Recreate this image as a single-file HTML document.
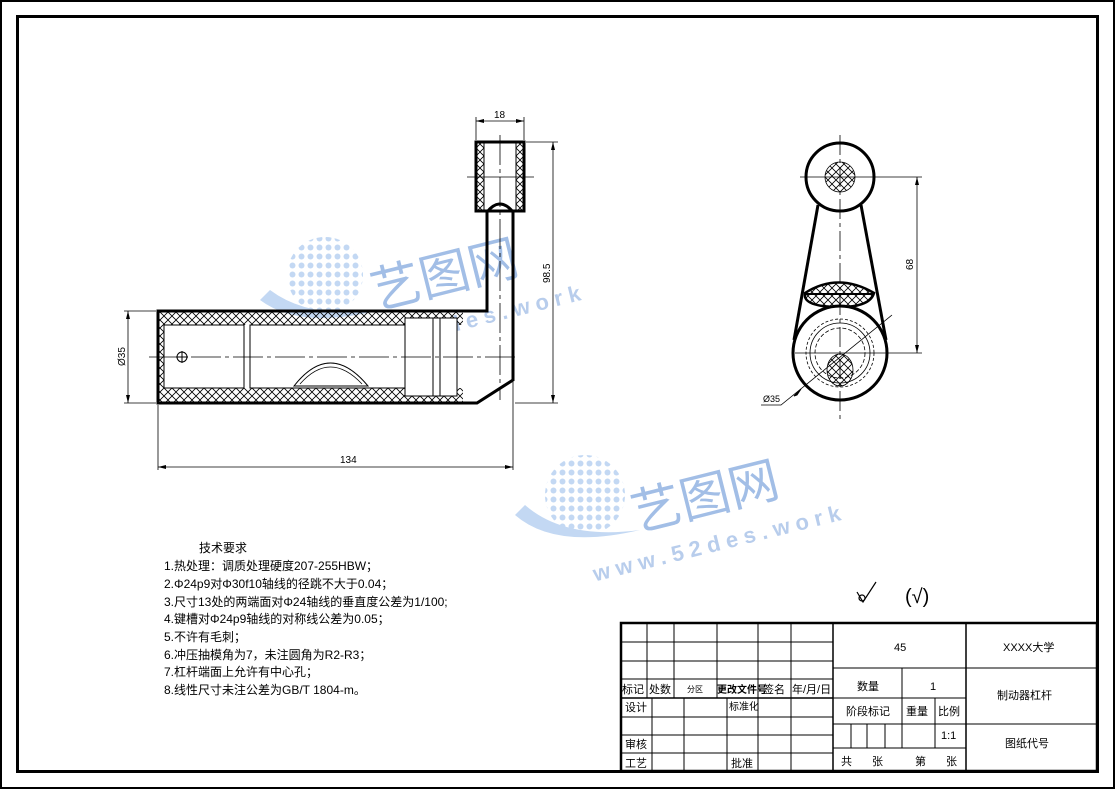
<!DOCTYPE html>
<html><head><meta charset="utf-8"><style>
html,body{margin:0;padding:0;background:#fff}
svg{display:block}
text{font-family:"Liberation Sans","Noto Sans CJK SC",sans-serif;fill:#000}
</style></head><body>
<svg width="1116" height="790" viewBox="0 0 1116 790" xmlns="http://www.w3.org/2000/svg">
<defs>
<pattern id="h" width="8" height="8" patternUnits="userSpaceOnUse">
<path d="M0 0L8 8M8 0L0 8" stroke="#000" stroke-width="0.8"/>
</pattern>
<pattern id="dots" width="9" height="9" patternUnits="userSpaceOnUse">
<circle cx="4.5" cy="4.5" r="3" fill="#a9c8ee"/>
</pattern>
</defs>
<rect x="1" y="1" width="1113" height="787" fill="none" stroke="#000" stroke-width="2"/>
<rect x="17.5" y="16.5" width="1080" height="755" fill="none" stroke="#000" stroke-width="3"/>

<!-- watermarks -->
<g opacity="0.7">
<circle cx="325" cy="275" r="38" fill="url(#dots)"/>
<path d="M260 300 Q300 330 380 310 Q310 320 270 290 Z" fill="#a9c8ee"/>
<text x="370" y="298" font-size="50" style="fill:#7aa2dc" transform="rotate(-14 420 280)">艺图网</text>
<text x="330" y="340" font-size="22" font-weight="bold" style="fill:#9ab8e4" transform="rotate(-14 420 330)" letter-spacing="6">www.52des.work</text>
<circle cx="585" cy="495" r="40" fill="url(#dots)"/>
<path d="M515 515 Q555 550 640 530 Q565 540 525 505 Z" fill="#a9c8ee"/>
<text x="630" y="520" font-size="50" style="fill:#7aa2dc" transform="rotate(-14 680 500)">艺图网</text>
<text x="590" y="560" font-size="22" font-weight="bold" style="fill:#9ab8e4" transform="rotate(-14 680 550)" letter-spacing="6">www.52des.work</text>
</g>

<!-- LEFT VIEW -->
<g stroke="#000" fill="none">
<path d="M158 311 H463 V403 H158 Z M165 325 H463 V388 H165 Z" fill="url(#h)" fill-rule="evenodd" stroke="none"/>
<rect x="476" y="142" width="48" height="69" fill="url(#h)"/>
<rect x="484" y="142" width="32" height="69" fill="#fff" stroke="#000" stroke-width="1"/>
<path d="M158 311 H487 V212 Q500 196 513 212 V380 L477 403 H158 Z" stroke-width="3"/>
<rect x="476" y="142" width="48" height="69" stroke-width="3"/>
<rect x="164" y="325" width="80" height="63" fill="#fff" stroke-width="1"/>
<rect x="250" y="325" width="155" height="63" fill="#fff" stroke-width="1"/>
<rect x="405" y="318" width="52" height="78" fill="#fff" stroke-width="1"/>
<line x1="433" y1="318" x2="433" y2="396" stroke-width="1"/>
<line x1="440" y1="318" x2="440" y2="396" stroke-width="1"/>
<path d="M294 386 Q330 340 368 386 Z" fill="#fff" stroke-width="1"/>
<path d="M300 384 Q330 350 362 384" stroke-width="0.8"/>
<circle cx="182" cy="357" r="5" stroke-width="1"/>
<line x1="176" y1="357" x2="188" y2="357" stroke-width="1"/>
<line x1="182" y1="351" x2="182" y2="363" stroke-width="1"/>
<line x1="149" y1="357" x2="515" y2="357" stroke-width="0.8" stroke-dasharray="30 4 4 4"/>
<line x1="500" y1="135" x2="500" y2="400" stroke-width="0.8" stroke-dasharray="30 4 4 4"/>
<line x1="467" y1="177" x2="534" y2="177" stroke-width="0.8"/>
<g stroke-width="0.8">
<line x1="476" y1="140" x2="476" y2="117"/><line x1="524" y1="140" x2="524" y2="117"/>
<line x1="476" y1="121" x2="524" y2="121"/>
<line x1="526" y1="142" x2="558" y2="142"/><line x1="515" y1="403" x2="558" y2="403"/>
<line x1="553" y1="142" x2="553" y2="403"/>
<line x1="156" y1="311" x2="124" y2="311"/><line x1="156" y1="403" x2="124" y2="403"/>
<line x1="128" y1="311" x2="128" y2="403"/>
<line x1="158" y1="405" x2="158" y2="470"/><line x1="513" y1="382" x2="513" y2="470"/>
<line x1="158" y1="467" x2="513" y2="467"/>
</g>
<path d="M476 121l8-2v4z M524 121l-8-2v4z M553 142l-2 8h4z M553 403l-2-8h4z M128 311l-2 8h4z M128 403l-2-8h4z M158 467l8-2v4z M513 467l-8-2v4z" fill="#000" stroke="none"/>
</g>
<text x="494" y="118" font-size="10">18</text>
<text x="340" y="463" font-size="10">134</text>
<text font-size="10" transform="translate(550 283) rotate(-90)">98.5</text>
<text font-size="10" transform="translate(125 366) rotate(-90)">Ø35</text>

<!-- RIGHT VIEW -->
<g stroke="#000" fill="none">
<line x1="818" y1="205" x2="794" y2="340" stroke-width="3"/>
<line x1="861" y1="205" x2="886" y2="340" stroke-width="3"/>
<circle cx="840" cy="177" r="34" fill="#fff" stroke-width="3"/>
<circle cx="840" cy="177" r="15" fill="url(#h)" stroke-width="0.8"/>
<path d="M805 293 Q838 272 874 293 Q870 307 840 307 Q808 307 805 297 Z" fill="url(#h)" stroke-width="2.5"/>
<line x1="805" y1="294" x2="874" y2="294" stroke-width="2"/>
<circle cx="840" cy="353" r="47" fill="#fff" stroke-width="3"/>
<circle cx="840" cy="353" r="34" stroke-width="0.8" stroke-dasharray="3 2"/>
<circle cx="840" cy="353" r="30" stroke-width="0.8"/>
<circle cx="840" cy="353" r="25" stroke-width="0.8" stroke-dasharray="4 2"/>
<ellipse cx="840" cy="370" rx="13" ry="16" fill="url(#h)" stroke-width="0.8"/>
<line x1="840" y1="135" x2="840" y2="420" stroke-width="0.8" stroke-dasharray="20 4 4 4"/>
<line x1="800" y1="177" x2="922" y2="177" stroke-width="0.8"/>
<line x1="795" y1="353" x2="922" y2="353" stroke-width="0.8"/>
<line x1="917" y1="177" x2="917" y2="353" stroke-width="0.8"/>
<path d="M917 177l-2 8h4z M917 353l-2-8h4z" fill="#000" stroke="none"/>
<polyline points="761,405 781,405 892,315" stroke-width="0.8"/>
<path d="M801 389l-7 7 3-1z" fill="#000" stroke-width="1"/>
</g>
<text font-size="10" transform="translate(913 270) rotate(-90)">68</text>
<text x="763" y="402" font-size="9">Ø35</text>

<g font-size="12">
<text x="199" y="552">技术要求</text>
<text x="164" y="570">1.热处理：调质处理硬度207-255HBW；</text>
<text x="164" y="588">2.Φ24p9对Φ30f10轴线的径跳不大于0.04；</text>
<text x="164" y="606">3.尺寸13处的两端面对Φ24轴线的垂直度公差为1/100;</text>
<text x="164" y="623">4.键槽对Φ24p9轴线的对称线公差为0.05；</text>
<text x="164" y="641">5.不许有毛刺；</text>
<text x="164" y="659">6.冲压抽模角为7，未注圆角为R2-R3；</text>
<text x="164" y="676">7.杠杆端面上允许有中心孔；</text>
<text x="164" y="694">8.线性尺寸未注公差为GB/T 1804-m。</text>
</g>
<g stroke="#000" fill="none" stroke-width="1.2">
<path d="M857 592 L863 602 L876 582"/>
<circle cx="862" cy="598" r="3"/>
</g>
<text x="905" y="603" font-size="20">(√)</text>

<!-- title block -->
<g stroke="#000" fill="none" stroke-width="1">
<rect x="621" y="623" width="476" height="148" stroke-width="2.5"/>
<line x1="833" y1="623" x2="833" y2="771" stroke-width="1.5"/>
<line x1="966" y1="623" x2="966" y2="771" stroke-width="1.5"/>
<line x1="621" y1="642" x2="833" y2="642"/>
<line x1="621" y1="661" x2="833" y2="661"/>
<line x1="621" y1="679" x2="833" y2="679"/>
<line x1="621" y1="698" x2="833" y2="698" stroke-width="1.5"/>
<line x1="621" y1="717" x2="833" y2="717"/>
<line x1="621" y1="735" x2="833" y2="735"/>
<line x1="621" y1="753" x2="833" y2="753"/>
<line x1="647" y1="623" x2="647" y2="698"/>
<line x1="674" y1="623" x2="674" y2="698"/>
<line x1="717" y1="623" x2="717" y2="698"/>
<line x1="758" y1="623" x2="758" y2="771"/>
<line x1="791" y1="623" x2="791" y2="771"/>
<line x1="652" y1="698" x2="652" y2="771"/>
<line x1="684" y1="698" x2="684" y2="771"/>
<line x1="727" y1="698" x2="727" y2="771"/>
<line x1="833" y1="668" x2="1097" y2="668"/>
<line x1="833" y1="698" x2="966" y2="698"/>
<line x1="966" y1="724" x2="1097" y2="724"/>
<line x1="833" y1="724" x2="966" y2="724"/>
<line x1="833" y1="748" x2="966" y2="748"/>
<line x1="902" y1="668" x2="902" y2="748"/>
<line x1="935" y1="698" x2="935" y2="748"/>
<line x1="851" y1="724" x2="851" y2="748"/>
<line x1="867" y1="724" x2="867" y2="748"/>
<line x1="885" y1="724" x2="885" y2="748"/>
</g>
<g font-size="11">
<text x="622" y="693">标记</text><text x="649" y="693">处数</text>
<text x="687" y="692" font-size="8">分区</text>
<text x="717" y="693" font-size="10" font-weight="bold">更改文件号</text>
<text x="763" y="693">签名</text><text x="792" y="693">年/月/日</text>
<text x="625" y="711">设计</text><text x="729" y="710" font-size="10">标准化</text>
<text x="625" y="748">审核</text><text x="625" y="767">工艺</text><text x="731" y="767">批准</text>
<text x="894" y="651">45</text>
<text x="857" y="690">数量</text><text x="930" y="690">1</text>
<text x="846" y="715">阶段标记</text><text x="906" y="715">重量</text><text x="938" y="715">比例</text>
<text x="941" y="739">1:1</text>
<text x="841" y="765">共</text><text x="872" y="765">张</text><text x="915" y="765">第</text><text x="946" y="765">张</text>
<text x="1003" y="651">XXXX大学</text>
<text x="997" y="699">制动器杠杆</text>
<text x="1005" y="747">图纸代号</text>
</g>
</svg>
</body></html>
